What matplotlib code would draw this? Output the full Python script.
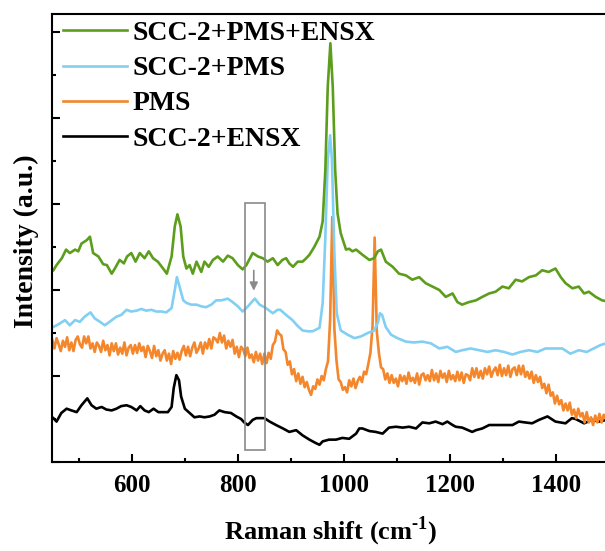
import numpy as np
import matplotlib
matplotlib.use('Agg')
import matplotlib.pyplot as plt
from matplotlib.ticker import MultipleLocator

plt.rcParams['font.family'] = ['Liberation Serif', 'DejaVu Serif']
plt.rcParams['font.weight'] = 'bold'
plt.rcParams['mathtext.fontset'] = 'custom'
plt.rcParams['mathtext.rm'] = 'Liberation Serif:bold'
plt.rcParams['mathtext.bf'] = 'Liberation Serif:bold'

# SCC-2+PMS+ENSX
green_x = [452, 458, 468, 476, 483, 493, 499, 505, 515, 521, 527, 537, 546, 553, 562, 568, 577,
           585, 591, 599, 607, 615, 624, 632, 640, 649, 659, 666, 675, 681, 686, 692, 697, 703,
           709, 715, 722, 731, 737, 745, 753, 762, 772, 781, 790, 800, 809, 816, 828, 838, 847,
           856, 866, 875, 884, 891, 897, 904, 913, 922, 929, 935, 944, 954, 960, 965, 969.5,
           974.5, 979, 983.5, 988, 994, 1004, 1010, 1016, 1023, 1035, 1048, 1057, 1064, 1070,
           1079, 1092, 1104, 1117, 1129, 1142, 1154, 1167, 1180, 1192, 1205, 1214, 1223, 1236,
           1249, 1261, 1274, 1286, 1299, 1311, 1324, 1336, 1349, 1362, 1374, 1386, 1399, 1409,
           1418, 1431, 1443, 1453, 1462, 1475, 1487, 1495]
green_y = [2.23, 2.29, 2.37, 2.47, 2.43, 2.47, 2.45, 2.54, 2.58, 2.62, 2.43, 2.39, 2.30, 2.29,
           2.19, 2.25, 2.35, 2.31, 2.39, 2.43, 2.33, 2.43, 2.37, 2.45, 2.37, 2.33, 2.25, 2.19,
           2.39, 2.74, 2.88, 2.74, 2.39, 2.25, 2.29, 2.19, 2.33, 2.21, 2.33, 2.27, 2.35, 2.39,
           2.33, 2.40, 2.37, 2.29, 2.24, 2.29, 2.43, 2.39, 2.37, 2.33, 2.37, 2.29, 2.35, 2.37,
           2.31, 2.27, 2.33, 2.33, 2.37, 2.41, 2.50, 2.62, 2.80, 3.40, 4.36, 4.87, 4.36, 3.40,
           2.89, 2.66, 2.47, 2.48, 2.45, 2.47, 2.41, 2.35, 2.37, 2.45, 2.47, 2.33, 2.27, 2.19,
           2.17, 2.12, 2.15, 2.08, 2.04, 2.00, 1.92, 1.96, 1.86, 1.83, 1.86, 1.88, 1.92, 1.96,
           1.98, 2.04, 2.02, 2.12, 2.10, 2.15, 2.17, 2.23, 2.21, 2.25, 2.15, 2.08, 2.02, 2.04,
           1.96, 1.98, 1.92, 1.88, 1.87]

# SCC-2+PMS
blue_x = [452, 464, 474, 483, 493, 502, 511, 522, 530, 540, 549, 558, 571, 580, 590, 599, 609,
          618, 627, 637, 646, 656, 665, 675, 681, 685, 690, 697, 703, 712, 722, 731, 740, 750,
          759, 769, 781, 790, 800, 809, 819, 826, 832, 841, 853, 866, 875, 880, 891, 903, 913,
          922, 932, 941, 954, 960, 965, 969.5, 974, 977.5, 982, 986.5, 994, 1007, 1020, 1032,
          1045, 1057, 1064, 1068, 1072, 1079, 1089, 1101, 1117, 1132, 1148, 1164, 1180, 1195,
          1211, 1223, 1239, 1255, 1271, 1286, 1302, 1318, 1333, 1349, 1365, 1380, 1396, 1412,
          1427, 1443, 1458, 1471, 1484, 1495]
blue_y = [1.57, 1.61, 1.65, 1.59, 1.65, 1.63, 1.69, 1.74, 1.67, 1.63, 1.59, 1.63, 1.69, 1.71,
          1.77, 1.75, 1.76, 1.78, 1.76, 1.77, 1.75, 1.75, 1.74, 1.79, 2.00, 2.15, 2.04, 1.88,
          1.85, 1.83, 1.83, 1.81, 1.80, 1.83, 1.88, 1.88, 1.90, 1.86, 1.81, 1.75, 1.81, 1.86,
          1.90, 1.83, 1.79, 1.73, 1.77, 1.77, 1.71, 1.65, 1.58, 1.53, 1.52, 1.52, 1.56, 1.85,
          2.62, 3.51, 3.80, 3.51, 2.43, 1.73, 1.53, 1.48, 1.44, 1.46, 1.50, 1.53, 1.62, 1.73,
          1.71, 1.57, 1.48, 1.44, 1.40, 1.39, 1.40, 1.38, 1.32, 1.34, 1.28, 1.30, 1.32, 1.30,
          1.28, 1.30, 1.28, 1.25, 1.28, 1.30, 1.28, 1.32, 1.32, 1.32, 1.26, 1.30, 1.28, 1.32,
          1.36, 1.38]

# PMS (noisy spectrum, one reading every 4 cm-1 from 450 to 1494)
orange_x = np.arange(450, 1495, 4)
orange_y = [1.42, 1.32, 1.44, 1.37, 1.29, 1.41, 1.34, 1.45, 1.30, 1.39, 1.29, 1.42, 1.46, 1.37,
            1.33, 1.46, 1.38, 1.46, 1.32, 1.38,
            1.28, 1.39, 1.35, 1.28, 1.41, 1.30, 1.36, 1.24, 1.38, 1.29, 1.38, 1.25, 1.33, 1.26,
            1.39, 1.24, 1.33, 1.36, 1.26, 1.36,
            1.27, 1.38, 1.29, 1.34, 1.22, 1.35, 1.29, 1.21, 1.35, 1.23, 1.30, 1.18, 1.26, 1.30,
            1.18, 1.26, 1.14, 1.29, 1.20, 1.27,
            1.19, 1.29, 1.35, 1.24, 1.34, 1.23, 1.33, 1.39, 1.27, 1.32, 1.39, 1.26, 1.39, 1.32,
            1.43, 1.32, 1.45, 1.43, 1.39, 1.50,
            1.39, 1.47, 1.32, 1.41, 1.34, 1.42, 1.26, 1.34, 1.22, 1.34, 1.31, 1.23, 1.33, 1.21,
            1.25, 1.16, 1.28, 1.18, 1.26, 1.14,
            1.26, 1.15, 1.27, 1.20, 1.36, 1.40, 1.53, 1.49, 1.47, 1.31, 1.28, 1.13, 1.17, 1.02,
            1.08, 0.94, 1.03, 0.91, 0.99, 0.87,
            0.93, 0.84, 0.78, 0.88, 0.85, 0.96, 0.90, 1.00, 0.95, 1.08, 1.17, 1.65, 2.85, 1.55,
            1.18, 0.96, 0.93, 0.84, 0.87, 0.81,
            0.95, 0.88, 0.97, 0.86, 0.94, 0.99, 0.93, 1.05, 1.02, 1.14, 1.27, 1.58, 2.61, 1.52,
            1.27, 1.10, 1.08, 0.96, 1.03, 0.92,
            1.01, 0.92, 0.97, 0.88, 1.01, 0.94, 1.00, 0.91, 1.04, 0.94, 0.98, 0.92, 1.03, 0.90,
            1.01, 1.03, 0.95, 1.01, 0.94, 1.07,
            0.95, 1.03, 0.93, 1.06, 0.98, 1.03, 0.93, 1.06, 0.96, 1.01, 0.94, 1.05, 0.95, 1.04,
            0.92, 1.02, 1.01, 0.95, 1.09, 0.99,
            1.09, 0.98, 1.06, 0.97, 1.09, 1.02, 1.11, 0.99, 1.06, 1.10, 1.01, 1.13, 1.00, 1.09,
            1.01, 1.12, 0.99, 1.08, 1.10, 1.01,
            1.12, 1.02, 1.12, 0.99, 1.05, 0.97, 1.05, 0.92, 1.01, 0.93, 0.99, 0.86, 0.91, 0.80,
            0.90, 0.77, 0.81, 0.68, 0.77, 0.67,
            0.72, 0.60, 0.68, 0.60, 0.69, 0.55, 0.61, 0.51, 0.62, 0.53, 0.57, 0.46, 0.58, 0.46,
            0.52, 0.43, 0.54, 0.46, 0.56, 0.46, 0.55, 0.50]

# SCC-2+ENSX
black_x = [452, 458, 467, 477, 486, 496, 505, 516, 524, 533, 543, 552, 562, 571, 580, 590, 599,
           609, 616, 624, 632, 641, 650, 659, 668, 675, 679, 684, 689, 693, 700, 709, 718, 728,
           737, 747, 756, 765, 775, 787, 797, 806, 812, 819, 828, 835, 841, 850, 860, 872, 885,
           897, 910, 922, 935, 947, 954, 960, 972, 985, 997, 1010, 1023, 1029, 1035, 1048, 1060,
           1073, 1085, 1098, 1111, 1123, 1136, 1148, 1161, 1173, 1186, 1195, 1205, 1211, 1223,
           1242, 1249, 1261, 1274, 1290, 1305, 1318, 1330, 1342, 1355, 1368, 1384, 1399, 1418,
           1430, 1437, 1453, 1468, 1481, 1495]
black_y = [0.51, 0.47, 0.57, 0.62, 0.60, 0.58, 0.66, 0.74, 0.66, 0.62, 0.64, 0.61, 0.60, 0.62,
           0.65, 0.66, 0.64, 0.60, 0.65, 0.60, 0.58, 0.62, 0.58, 0.58, 0.58, 0.64, 0.86, 1.01,
           0.95, 0.76, 0.62, 0.57, 0.52, 0.53, 0.52, 0.53, 0.55, 0.60, 0.58, 0.57, 0.53, 0.50,
           0.46, 0.43, 0.49, 0.51, 0.51, 0.51, 0.47, 0.43, 0.39, 0.35, 0.37, 0.31, 0.26, 0.22,
           0.20, 0.24, 0.26, 0.26, 0.28, 0.27, 0.33, 0.39, 0.39, 0.36, 0.35, 0.33, 0.40, 0.41,
           0.40, 0.41, 0.39, 0.46, 0.45, 0.47, 0.44, 0.47, 0.43, 0.41, 0.40, 0.35, 0.37, 0.39,
           0.43, 0.43, 0.43, 0.43, 0.47, 0.46, 0.45, 0.49, 0.53, 0.47, 0.45, 0.51, 0.50, 0.45,
           0.49, 0.47, 0.49]

labels = ['SCC-2+PMS+ENSX', 'SCC-2+PMS', 'PMS', 'SCC-2+ENSX']
colors = ['#5c9e1c', '#82cff4', '#f4862c', 'black']

fig = plt.figure(figsize=(6.05, 5.51), dpi=100)
ax = fig.add_axes([52.3 / 605, 89 / 551, 556.7 / 605, 448 / 551])

lw = 1.9
l4, = ax.plot(black_x, black_y, color=colors[3], lw=lw)
l3, = ax.plot(orange_x, orange_y, color=colors[2], lw=lw)
l2, = ax.plot(blue_x, blue_y, color=colors[1], lw=lw)
l1, = ax.plot(green_x, green_y, color=colors[0], lw=lw)

# marked region
ax.add_patch(plt.Rectangle((814, 0.14), 37.7, 2.87, fill=False, ec='#8a8a8a', lw=1.2, zorder=5))
ax.annotate('', xy=(830, 1.96), xytext=(830, 2.26),
            arrowprops=dict(arrowstyle='-|>', color='#8a8a8a', lw=1.2, mutation_scale=12))

ax.set_xlim(450, 1500)
ax.set_ylim(0, 5.21)
ax.xaxis.set_major_locator(MultipleLocator(200))
ax.xaxis.set_minor_locator(MultipleLocator(100))
ax.yaxis.set_major_locator(MultipleLocator(1))
ax.yaxis.set_minor_locator(MultipleLocator(0.5))
ax.tick_params(which='both', direction='in', width=1.5, top=False, right=False)
ax.tick_params(which='major', length=6)
ax.tick_params(which='minor', length=3)
ax.tick_params(axis='x', labelsize=18, pad=9)
ax.set_yticklabels([])
for s in ax.spines.values():
    s.set_linewidth(1.5)

ax.set_xlabel(r'Raman shift (cm$^{\text{-}1}$)', fontsize=19, fontweight='bold', labelpad=12)
ax.set_ylabel('Intensity (a.u.)', fontsize=20, fontweight='bold')
ax.yaxis.set_label_coords(-0.023, 0.493)

ax.legend([l1, l2, l3, l4], labels, loc='upper left', bbox_to_anchor=(0.019, 0.985),
          frameon=False, borderpad=0, borderaxespad=0, handlelength=2.3,
          handletextpad=0.22, labelspacing=0.35, prop={'size': 20, 'weight': 'bold'})

fig.savefig('out.png', dpi=100)
